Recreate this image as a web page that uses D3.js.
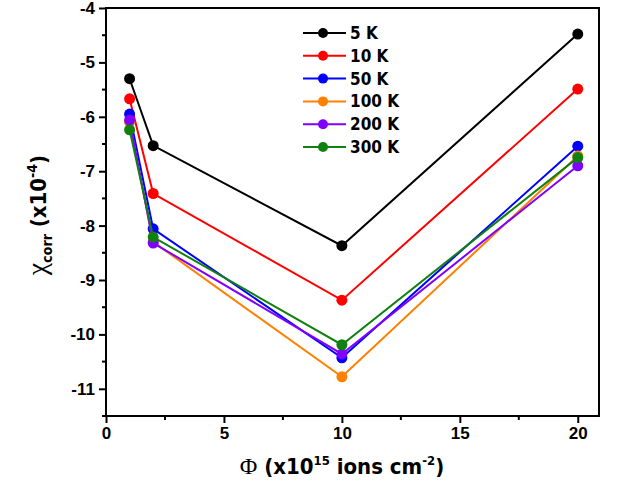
<!DOCTYPE html>
<html>
<head>
<meta charset="utf-8">
<script src="https://cdn.jsdelivr.net/npm/d3@7"></script>
<style>
  body { margin: 0; background: #fff; }
  svg text { font-family: "Liberation Sans Narrow", "DejaVu Sans Condensed", "Liberation Sans", Arial, sans-serif; font-weight: bold; }
</style>
</head>
<body>
<svg id="chart" width="618" height="485"></svg>
<script>
// fluence values (x10^15 ions cm^-2)
const fluence = [1, 2, 10, 20];

const temps = ["5 K", "10 K", "50 K", "100 K", "200 K", "300 K"];
const colors = ["#000000", "#ff0000", "#0000ff", "#ff8000", "#8000ff", "#108010"];

// chi_corr (x10^-4), one array per temperature
const chi5K   = [-5.30, -6.53, -8.37, -4.48];
const chi10K  = [-5.67, -7.41, -9.37, -5.49];
const chi50K  = [-5.95, -8.06, -10.43, -6.54];
const chi100K = [-6.10, -8.30, -10.78, -6.72];
const chi200K = [-6.06, -8.32, -10.36, -6.90];
const chi300K = [-6.24, -8.21, -10.19, -6.75];
const series = [chi5K, chi10K, chi50K, chi100K, chi200K, chi300K];

const xTicks = [0, 5, 10, 15, 20];
const yTicks = [-11, -10, -9, -8, -7, -6, -5, -4];

const svg = d3.select("#chart");
const margin = { left: 106, top: 8, right: 19, bottom: 69 };
const width = 618 - margin.left - margin.right;
const height = 485 - margin.top - margin.bottom;

const x = d3.scaleLinear().domain([0, 20.9]).range([margin.left, margin.left + width]);
const y = d3.scaleLinear().domain([-11.5, -4]).range([margin.top + height, margin.top]);

// frame
svg.append("rect")
    .attr("x", margin.left).attr("y", margin.top)
    .attr("width", width).attr("height", height)
    .attr("fill", "none").attr("stroke", "#000").attr("stroke-width", 2);

// minor ticks
const xMinor = d3.range(2.5, 20.9, 5);
svg.append("g").selectAll("line").data(xMinor).join("line")
    .attr("x1", d => x(d)).attr("x2", d => x(d))
    .attr("y1", margin.top + height).attr("y2", margin.top + height + 4)
    .attr("stroke", "#000").attr("stroke-width", 2);
const yMinor = d3.range(-11.5, -4, 1);
svg.append("g").selectAll("line").data(yMinor).join("line")
    .attr("x1", margin.left - 4).attr("x2", margin.left)
    .attr("y1", d => y(d)).attr("y2", d => y(d))
    .attr("stroke", "#000").attr("stroke-width", 2);

// axes
const xAxis = svg.append("g")
    .attr("transform", `translate(0,${margin.top + height})`)
    .call(d3.axisBottom(x).tickValues(xTicks).tickSize(7).tickPadding(4));
const yAxis = svg.append("g")
    .attr("transform", `translate(${margin.left},0)`)
    .call(d3.axisLeft(y).tickValues(yTicks).tickSize(7).tickPadding(4)
        .tickFormat(d => String(d)));
[xAxis, yAxis].forEach(a => {
    a.select(".domain").remove();
    a.selectAll(".tick line").attr("stroke-width", 2);
    a.selectAll(".tick text").attr("font-size", 17).attr("fill", "#000")
        .style("font-family", "inherit");
});

// lines + markers
const line = d3.line().x((d, i) => x(fluence[i])).y(d => y(d));
series.forEach((vals, k) => {
    svg.append("path")
        .datum(vals)
        .attr("fill", "none")
        .attr("stroke", colors[k])
        .attr("stroke-width", 2)
        .attr("d", line);
    svg.append("g").selectAll("circle").data(vals).join("circle")
        .attr("cx", (d, i) => x(fluence[i]))
        .attr("cy", d => y(d))
        .attr("r", 5.5)
        .attr("fill", colors[k]);
});

// legend
const legend = svg.append("g").attr("transform", "translate(303,33)");
temps.forEach((t, k) => {
    const row = legend.append("g").attr("transform", `translate(0,${k * 22.8})`);
    row.append("line").attr("x1", 0).attr("x2", 43).attr("y1", 0).attr("y2", 0)
        .attr("stroke", colors[k]).attr("stroke-width", 2);
    row.append("circle").attr("cx", 20).attr("cy", 0).attr("r", 5).attr("fill", colors[k]);
    row.append("text").attr("x", 47).attr("y", 6).attr("font-size", 17).text(t);
});

// y title
const yt = svg.append("text")
    .attr("transform", "translate(46,215) rotate(-90)")
    .attr("text-anchor", "middle")
    .attr("font-size", 22);
yt.append("tspan").style("font-family", "'Liberation Serif', 'DejaVu Serif', serif")
    .attr("font-weight", "normal").attr("font-size", 28).text("\u03c7");
yt.append("tspan").attr("font-size", 14).attr("dy", 6).text("corr");
yt.append("tspan").attr("dy", -6).text(" (x10");
yt.append("tspan").attr("font-size", 14).attr("dy", -9).text("-4");
yt.append("tspan").attr("dy", 9).text(")");

// x title
const xt = svg.append("text")
    .attr("x", 342).attr("y", 474)
    .attr("text-anchor", "middle")
    .attr("font-size", 22);
xt.append("tspan").style("font-family", "'Liberation Serif', 'DejaVu Serif', serif")
    .attr("font-weight", "normal").attr("font-size", 24).text("\u03a6");
xt.append("tspan").text(" (x10");
xt.append("tspan").attr("font-size", 13).attr("dy", -9).text("15");
xt.append("tspan").attr("dy", 9).text(" ions cm");
xt.append("tspan").attr("font-size", 13).attr("dy", -9).text("-2");
xt.append("tspan").attr("dy", 9).text(")");
</script>
</body>
</html>
